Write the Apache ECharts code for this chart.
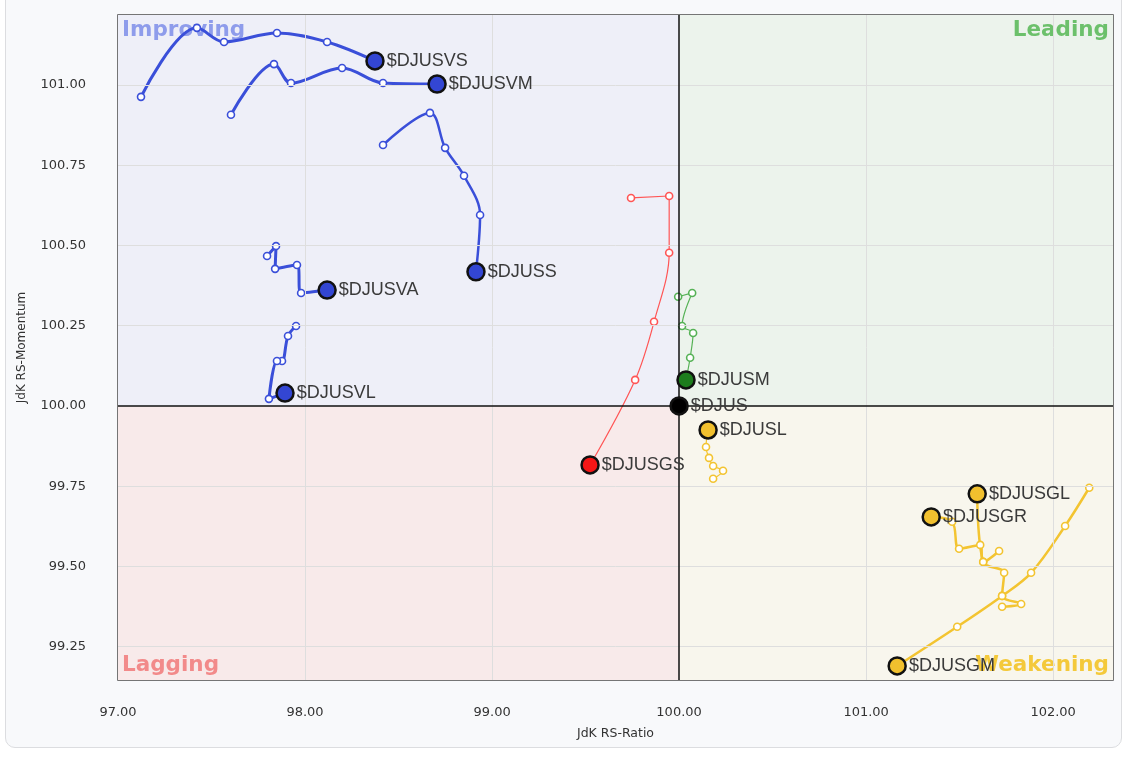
<!DOCTYPE html>
<html>
<head>
<meta charset="utf-8">
<script src="https://cdn.jsdelivr.net/npm/echarts@6/dist/echarts.min.js"></script>
<style>
  html, body { margin:0; padding:0; background:#ffffff; }
  #panel { position:absolute; left:5px; top:-12px; width:1117px; height:760px; border:1px solid #dcdde0; border-radius:10px; background:#f8f9fb; box-sizing:border-box; }
  #chart { position:absolute; left:0; top:0; width:1126px; height:760px; }
</style>
</head>
<body>
<div id="panel"></div>
<div id="chart"></div>
<script>
// ---- data (RS-Ratio = x, RS-Momentum = y), oldest point first, last = head ----
const xTicks = [97, 98, 99, 100, 101, 102];
const yTicks = [99.25, 99.5, 99.75, 100, 100.25, 100.5, 100.75, 101];
const quadrantNames = ['Improving', 'Leading', 'Lagging', 'Weakening'];

const djusvsRatio    = [97.123, 97.422, 97.567, 97.850, 98.118, 98.374];
const djusvsMomentum = [100.963, 101.178, 101.134, 101.162, 101.134, 101.075];

const djusvmRatio    = [97.604, 97.834, 97.925, 98.198, 98.417, 98.706];
const djusvmMomentum = [100.907, 101.065, 101.006, 101.053, 101.006, 101.003];

const djussRatio     = [98.417, 98.668, 98.749, 98.850, 98.936, 98.914];
const djussMomentum  = [100.813, 100.913, 100.804, 100.717, 100.595, 100.418];

const djusvaRatio    = [97.797, 97.845, 97.840, 97.957, 97.979, 98.118];
const djusvaMomentum = [100.467, 100.498, 100.427, 100.439, 100.352, 100.361];

const djusvlRatio    = [97.952, 97.909, 97.877, 97.850, 97.807, 97.893];
const djusvlMomentum = [100.249, 100.218, 100.140, 100.140, 100.022, 100.040];

const djusgsRatio    = [99.743, 99.947, 99.947, 99.866, 99.765, 99.524];
const djusgsMomentum = [100.648, 100.654, 100.477, 100.262, 100.081, 99.816];

const djusmRatio     = [99.995, 100.070, 100.016, 100.075, 100.059, 100.037];
const djusmMomentum  = [100.340, 100.352, 100.249, 100.227, 100.150, 100.081];

const djusRatio      = [100.0];
const djusMomentum   = [100.0];

const djuslRatio     = [100.182, 100.235, 100.182, 100.160, 100.144, 100.155];
const djuslMomentum  = [99.773, 99.798, 99.813, 99.838, 99.872, 99.925];

const djusglRatio    = [101.727, 101.829, 101.727, 101.738, 101.626, 101.594];
const djusglMomentum = [99.374, 99.383, 99.408, 99.480, 99.514, 99.726];

const djusgrRatio    = [101.711, 101.626, 101.610, 101.497, 101.460, 101.348];
const djusgrMomentum = [99.548, 99.514, 99.567, 99.555, 99.639, 99.654];

const djusgmRatio    = [102.193, 102.064, 101.882, 101.727, 101.487, 101.166];
const djusgmMomentum = [99.745, 99.626, 99.480, 99.408, 99.312, 99.190];

// ---- styling ----
const BLUE = '#3a4fd9', RED = '#ff5555', GREEN = '#56b256', YEL = '#f3c431';
const xMin = 97, xMax = 102.32, yMin = 99.146, yMax = 101.218;
const FONT = '"Liberation Sans", Arial, sans-serif';
const TICKFONT = '"DejaVu Sans", Verdana, sans-serif';

const defs = [
  { name: '$DJUSVS', x: djusvsRatio, y: djusvsMomentum, color: BLUE, head: '#3346d3', w: 3 },
  { name: '$DJUSVM', x: djusvmRatio, y: djusvmMomentum, color: BLUE, head: '#3346d3', w: 3 },
  { name: '$DJUSS',  x: djussRatio,  y: djussMomentum,  color: BLUE, head: '#3346d3', w: 2.5 },
  { name: '$DJUSVA', x: djusvaRatio, y: djusvaMomentum, color: BLUE, head: '#3346d3', w: 3 },
  { name: '$DJUSVL', x: djusvlRatio, y: djusvlMomentum, color: BLUE, head: '#3346d3', w: 3 },
  { name: '$DJUSGS', x: djusgsRatio, y: djusgsMomentum, color: RED,  head: '#f51616', w: 1.2 },
  { name: '$DJUSM',  x: djusmRatio,  y: djusmMomentum,  color: GREEN, head: '#1d7d1d', w: 1.2 },
  { name: '$DJUS',   x: djusRatio,   y: djusMomentum,   color: '#000', head: '#000000', w: 1 },
  { name: '$DJUSL',  x: djuslRatio,  y: djuslMomentum,  color: YEL, head: '#f1c02e', w: 1.2 },
  { name: '$DJUSGL', x: djusglRatio, y: djusglMomentum, color: YEL, head: '#f1c02e', w: 2.5 },
  { name: '$DJUSGR', x: djusgrRatio, y: djusgrMomentum, color: YEL, head: '#f1c02e', w: 2.5 },
  { name: '$DJUSGM', x: djusgmRatio, y: djusgmMomentum, color: YEL, head: '#f1c02e', w: 2.5 }
];

const series = [];

// background quadrants
series.push({
  type: 'line', data: [], silent: true, z: 1,
  markArea: {
    silent: true,
    data: [
      [{ coord: [xMin, 100], itemStyle: { color: '#eeeff8' }, label: { formatter: quadrantNames[0], position: 'insideTopLeft', color: '#8e9ceb' } }, { coord: [100, yMax] }],
      [{ coord: [100, 100], itemStyle: { color: '#ecf3ec' }, label: { formatter: quadrantNames[1], position: 'insideTopRight', color: '#6cc06b' } }, { coord: [xMax, yMax] }],
      [{ coord: [xMin, yMin], itemStyle: { color: '#f8eaea' }, label: { formatter: quadrantNames[2], position: 'insideBottomLeft', color: '#f28a8a' } }, { coord: [100, 100] }],
      [{ coord: [100, yMin], itemStyle: { color: '#f8f6ed' }, label: { formatter: quadrantNames[3], position: 'insideBottomRight', color: '#f4c93b' } }, { coord: [xMax, 100] }]
    ],
    label: { show: true, fontSize: 21.5, fontWeight: 'bold', fontFamily: TICKFONT, distance: 4 }
  }
});

// grid lines drawn above the quadrant fills
series.push({
  type: 'line', data: [], silent: true, z: 2,
  markLine: {
    silent: true, symbol: 'none', animation: false,
    label: { show: false },
    lineStyle: { color: '#dedede', width: 1, type: 'solid' },
    data: xTicks.filter(v => v !== 100 && v > xMin).map(v => ({ xAxis: v }))
      .concat(yTicks.filter(v => v !== 100).map(v => ({ yAxis: v })))
  }
});

// crosshair at 100 / 100
series.push({
  type: 'line', data: [], silent: true, z: 2,
  markLine: {
    silent: true, symbol: 'none', animation: false,
    label: { show: false },
    lineStyle: { color: '#111', width: 1.5, type: 'solid' },
    data: [{ xAxis: 100 }, { yAxis: 100 }]
  }
});

defs.forEach(d => {
  const pts = d.x.map((v, i) => [v, d.y[i]]);
  if (pts.length > 1) {
    series.push({
      type: 'line', name: d.name, data: pts, smooth: 0.35, z: 3,
      symbol: 'circle', symbolSize: 7, showSymbol: true,
      lineStyle: { color: d.color, width: d.w },
      itemStyle: { color: '#ffffff', borderColor: d.color, borderWidth: 1.6 },
      emphasis: { disabled: true }
    });
  }
  series.push({
    type: 'scatter', name: d.name + ' head', data: [pts[pts.length - 1]], z: 5,
    symbol: 'circle', symbolSize: 17,
    itemStyle: { color: d.head, borderColor: '#111', borderWidth: 2.5, opacity: 1 },
    label: { show: true, position: 'right', distance: 2, formatter: d.name, color: '#3a3a3a', fontSize: 18, fontFamily: FONT },
    emphasis: { disabled: true }
  });
});

const chart = echarts.init(document.getElementById('chart'), null, { renderer: 'canvas' });
chart.setOption({
  animation: false,
  backgroundColor: 'transparent',
  grid: { left: 118, right: 13, top: 15, bottom: 80, show: true, borderColor: '#4a4a4a', borderWidth: 1.5, backgroundColor: 'transparent' },
  xAxis: {
    type: 'value', min: xMin, max: xMax, interval: 1,
    name: 'JdK RS-Ratio', nameLocation: 'middle', nameGap: 47,
    nameTextStyle: { color: '#333', fontSize: 12.5, fontFamily: TICKFONT },
    axisLine: { show: false }, axisTick: { show: false },
    axisLabel: { color: '#333', fontSize: 13, fontFamily: TICKFONT, margin: 26, formatter: v => v.toFixed(2), customValues: xTicks },
    splitLine: { show: false }
  },
  yAxis: {
    type: 'value', min: yMin, max: yMax,
    name: 'JdK RS-Momentum', nameLocation: 'middle', nameGap: 90, nameRotate: 90,
    nameTextStyle: { color: '#333', fontSize: 12, fontFamily: TICKFONT },
    axisLine: { show: false },
    axisTick: { show: false, customValues: yTicks },
    axisLabel: { color: '#333', fontSize: 13, fontFamily: TICKFONT, margin: 32, formatter: v => v.toFixed(2), customValues: yTicks },
    splitLine: { show: false }
  },
  series: series
});
</script>
</body>
</html>
